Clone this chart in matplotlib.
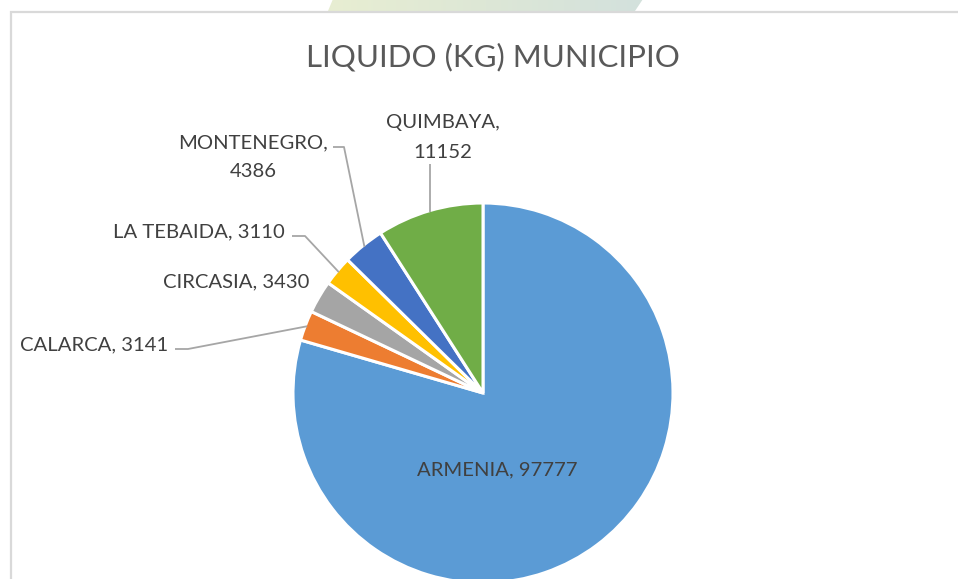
import matplotlib
matplotlib.use("Agg")
import matplotlib.pyplot as plt
import numpy as np
from matplotlib.patches import Polygon
from matplotlib.colors import LinearSegmentedColormap

# ---- data ----
categories = ["ARMENIA", "CALARCA", "CIRCASIA", "LA TEBAIDA", "MONTENEGRO", "QUIMBAYA"]
values = [97777, 3141, 3430, 3110, 4386, 11152]
colors = ["#5B9BD5", "#ED7D31", "#A5A5A5", "#FFC000", "#4472C4", "#70AD47"]
title = "LIQUIDO (KG) MUNICIPIO"

plt.rcParams['font.family'] = ['Lato', 'DejaVu Sans']

W, H = 958, 579
fig = plt.figure(figsize=(W / 100, H / 100), dpi=100)
ax = fig.add_axes([0, 0, 1, 1])

cx, cy, R = 483, H - 393, 190
wedges, _ = ax.pie(values, colors=colors, startangle=90, counterclock=False,
                   center=(cx, cy), radius=R,
                   wedgeprops=dict(edgecolor='white', linewidth=2.2))
ax.set_xlim(0, W)
ax.set_ylim(0, H)
ax.set_aspect('equal')
ax.axis('off')

# chart frame (extends beyond image on right/bottom)
ax.plot([11, 11, W + 5], [-5, H - 12, H - 12], color='#D9D9D9', lw=1.6,
        clip_on=False, solid_joinstyle='miter')

# faint watermark shape above the frame
poly = Polygon([(333, H + 1), (643, H + 1), (635, H - 11), (328, H - 11)],
               closed=True, facecolor='none', edgecolor='none')
ax.add_patch(poly)
cmap = LinearSegmentedColormap.from_list('wm', ['#E8EED2', '#DDE7D6', '#D3E1DD'])
grad = np.linspace(0, 1, 256).reshape(1, -1)
im = ax.imshow(grad, cmap=cmap, extent=(328, 643, H - 11, H + 1), aspect='auto',
               zorder=0)
im.set_clip_path(poly)
ax.set_xlim(0, W)
ax.set_ylim(0, H)

# title
ax.text(493, H - 66, title, ha='center', va='baseline', fontsize=22.5,
        color='#595959')

lab_color = '#404040'
lead_color = '#A6A6A6'
fs = 14.6


def anchor(i, shrink=1.0):
    w = wedges[i]
    mid = np.deg2rad((w.theta1 + w.theta2) / 2)
    return cx + R * shrink * np.cos(mid), cy + R * shrink * np.sin(mid)


def txt(x, y, s, ha):
    ax.text(x, H - y, s, ha=ha, va='baseline', fontsize=fs, color=lab_color)


def leader(pts):
    xs = [p[0] for p in pts]
    ys = [p[1] for p in pts]
    ax.plot(xs, ys, color=lead_color, lw=1.3, solid_capstyle='butt')


# ARMENIA (inside)
txt(497, 475, f"{categories[0]}, {values[0]}", 'center')

# CALARCA
txt(168, 350, f"{categories[1]}, {values[1]}", 'right')
a = anchor(1, 0.99)
leader([(175, H - 349), (188, H - 349), a])

# CIRCASIA
txt(309, 287, f"{categories[2]}, {values[2]}", 'right')

# LA TEBAIDA
txt(285, 237, f"{categories[3]}, {values[3]}", 'right')
a = anchor(3, 0.99)
leader([(292, H - 236), (305, H - 236), a])

# MONTENEGRO
txt(253, 148, f"{categories[4]},", 'center')
txt(253, 177, f"{values[4]}", 'center')
a = anchor(4, 0.99)
leader([(333, H - 147), (344, H - 147), a])

# QUIMBAYA
txt(443, 128, f"{categories[5]},", 'center')
txt(443, 158, f"{values[5]}", 'center')
a = anchor(5, 0.99)
leader([(a[0], H - 164), a])

fig.savefig('out.png', dpi=100, facecolor='white')
